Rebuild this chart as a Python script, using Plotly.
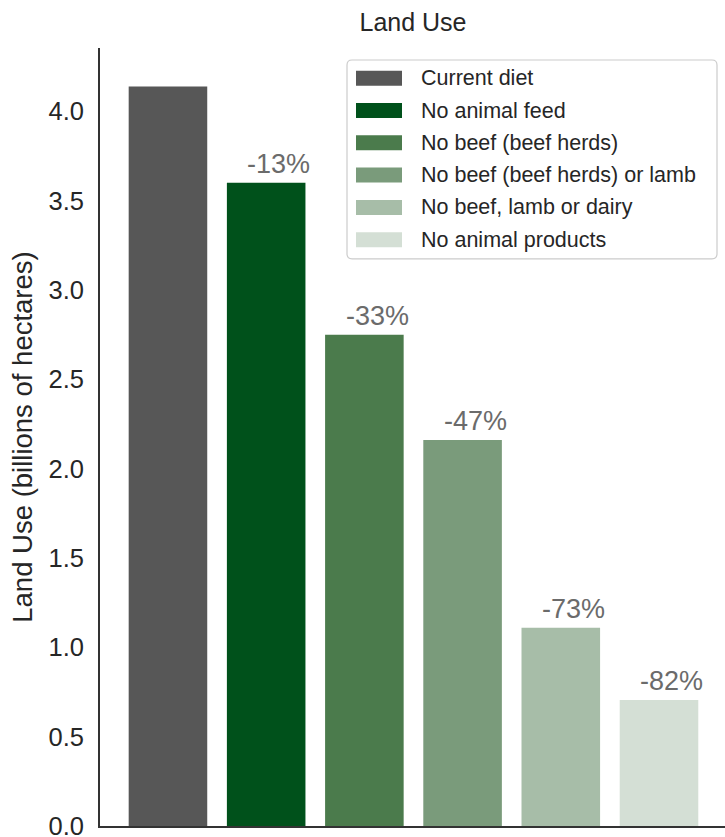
import plotly.graph_objects as go

# Land use per diet scenario (billions of hectares)
scenarios = [
    "Current diet",
    "No animal feed",
    "No beef (beef herds)",
    "No beef (beef herds) or lamb",
    "No beef, lamb or dairy",
    "No animal products",
]
land_use = [4.14, 3.60, 2.75, 2.16, 1.11, 0.705]
colors = ["#575757", "#00511b", "#4b7b4c", "#7a9b7b", "#a7bda8", "#d4dfd5"]
y_ticks = [0.0, 0.5, 1.0, 1.5, 2.0, 2.5, 3.0, 3.5, 4.0]

# percentage change relative to the current diet
changes = [int((v / land_use[0] - 1) * 100) for v in land_use]

W, H = 725, 837
L, R, T, B = 100, 0, 48, 10.5
PW, PH = W - L - R, H - T - B


def px_x(p):
    return (p - L) / PW


def px_y(p):
    return (H - B - p) / PH


FONT = "Liberation Sans, Arial, sans-serif"
xs = list(range(len(scenarios)))

fig = go.Figure()
for i, (name, val, col) in enumerate(zip(scenarios, land_use, colors)):
    fig.add_trace(go.Bar(
        x=[xs[i]], y=[val], name=name, width=0.8,
        marker=dict(color=col, line=dict(width=0)),
        showlegend=False,
    ))

# change labels above each bar (skip the baseline)
for i in xs[1:]:
    fig.add_annotation(
        x=xs[i] + 0.13, y=land_use[i], text=f"{changes[i]}%",
        showarrow=False, yanchor="bottom", yshift=2,
        font=dict(family=FONT, size=27, color="#6b6b6b"),
    )

# legend panel
bx0, bx1, by0, by1, r = 347, 717, 60, 259, 5
rx, ry = r / PW, r / PH
X0, X1, Y0, Y1 = px_x(bx0), px_x(bx1), px_y(by1), px_y(by0)
path = (f"M{X0+rx},{Y0} L{X1-rx},{Y0} Q{X1},{Y0} {X1},{Y0+ry} "
        f"L{X1},{Y1-ry} Q{X1},{Y1} {X1-rx},{Y1} L{X0+rx},{Y1} "
        f"Q{X0},{Y1} {X0},{Y1-ry} L{X0},{Y0+ry} Q{X0},{Y0} {X0+rx},{Y0} Z")
fig.add_shape(type="path", path=path, xref="paper", yref="paper",
              line=dict(color="#cccccc", width=1.2), fillcolor="white", layer="above")
row0, pitch = 78.3, 32.3
for k, (name, col) in enumerate(zip(scenarios, colors)):
    cy = row0 + k * pitch
    fig.add_shape(type="rect", xref="paper", yref="paper",
                  x0=px_x(356), x1=px_x(402), y0=px_y(cy + 7.5), y1=px_y(cy - 7.5),
                  fillcolor=col, line=dict(width=0), layer="above")
    fig.add_annotation(xref="paper", yref="paper", x=px_x(419), y=px_y(cy),
                       text=name, showarrow=False, xanchor="left", yanchor="middle",
                       font=dict(family=FONT, size=21.5, color="#262626"))

fig.update_layout(
    width=W, height=H,
    margin=dict(l=L, r=R, t=T, b=B),
    paper_bgcolor="white", plot_bgcolor="white",
    bargap=0.2,
    title=dict(text="Land Use", x=413 / W, xanchor="center",
               y=1 - 22 / H, yanchor="middle", yref="container",
               font=dict(family=FONT, size=25, color="#262626")),
    xaxis=dict(range=[-0.692, 5.672], showticklabels=False, showgrid=False,
               zeroline=False, showline=True, linecolor="#333333", linewidth=2,
               ticks="", automargin=False),
    yaxis=dict(range=[-0.0005, 4.355], tickvals=y_ticks,
               ticktext=[f"{v:.1f}" for v in y_ticks],
               showgrid=False, zeroline=False, showline=True,
               linecolor="#333333", linewidth=1.8, ticks="",
               ticklabelstandoff=9, ticklabeloverflow="allow",
               automargin=False,
               tickfont=dict(family=FONT, size=25.5, color="#262626"),
               title=dict(text="Land Use (billions of hectares)", standoff=8,
                          font=dict(family=FONT, size=27.5, color="#262626"))),
)

fig.write_html("out.html")
